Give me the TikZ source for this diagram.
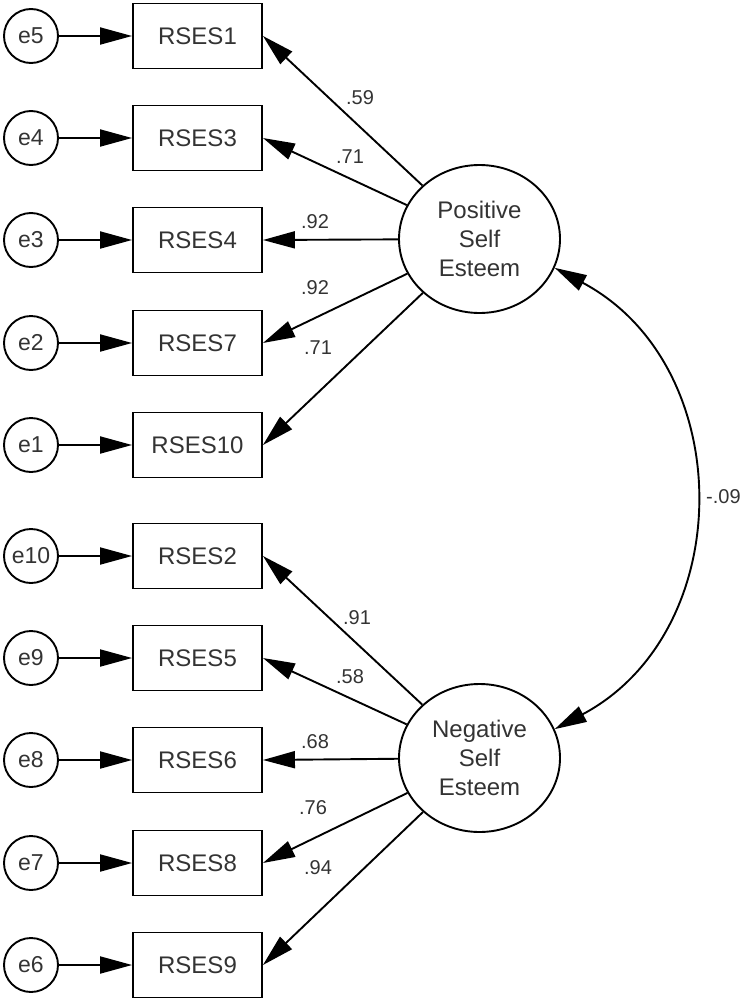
\documentclass[tikz,border=0pt]{standalone}
\usepackage{fontspec}
\setmainfont{Liberation Sans}
\usetikzlibrary{arrows.meta,shapes.geometric}
\begin{document}
\begin{tikzpicture}[x=1pt,y=1pt,
 obs/.style={draw,line width=1.9pt,minimum width=129pt,minimum height=65pt,inner sep=0pt,font=\fontsize{24}{29}\selectfont,text=black!80},
 err/.style={draw,circle,line width=1.9pt,minimum size=54pt,inner sep=0pt,font=\fontsize{23}{28}\selectfont,text=black!80},
 lat/.style={draw,ellipse,line width=1.9pt,minimum width=161pt,minimum height=148pt,inner sep=0pt,align=center,font=\fontsize{24}{29}\selectfont,text=black!80},
 arr/.style={line width=1.9pt,-{Triangle[length=32pt,width=17pt]}},
 dblarr/.style={line width=1.9pt,{Triangle[length=32pt,width=17pt]}-{Triangle[length=32pt,width=17pt]}},
 lbl/.style={font=\fontsize{20}{24}\selectfont,text=black!80,inner sep=0pt}]
\useasboundingbox (0,0) rectangle (745,-1001);
\foreach \e/\b/\y [count=\i] in {e5/RSES1/36, e4/RSES3/138, e3/RSES4/240, e2/RSES7/343, e1/RSES10/445, e10/RSES2/556, e9/RSES5/658, e8/RSES6/760, e7/RSES8/863, e6/RSES9/965} {
  \node[err] (e\i) at (31,-\y) {\e};
  \node[obs] (b\i) at (197.5,-\y) {\b};
  \draw[arr] (e\i) -- (b\i);
}
\node[lat] (pos) at (479.5,-239) {Positive\\Self\\Esteem};
\node[lat] (neg) at (479.5,-758) {Negative\\Self\\Esteem};
\foreach \i in {1,...,5} \draw[arr] (pos) -- (b\i.east);
\foreach \i in {6,...,10} \draw[arr] (neg) -- (b\i.east);
\node[lbl] (l1) at (360,-98) {.59};
\node[lbl] (l2) at (350,-157) {.71};
\node[lbl] (l3) at (315,-222) {.92};
\node[lbl] (l4) at (315,-288) {.92};
\node[lbl] (l5) at (318,-348) {.71};
\node[lbl] (l6) at (357,-618) {.91};
\node[lbl] (l7) at (350,-677) {.58};
\node[lbl] (l8) at (315,-742) {.68};
\node[lbl] (l9) at (313,-808) {.76};
\node[lbl] (l10) at (318,-868) {.94};
\draw[dblarr] (pos.-21) .. controls +(-28:208pt) and +(28:208pt) .. (neg.21);
\node[lbl,anchor=west] (cov) at (706,-497) {-.09};
\end{tikzpicture}
\end{document}
